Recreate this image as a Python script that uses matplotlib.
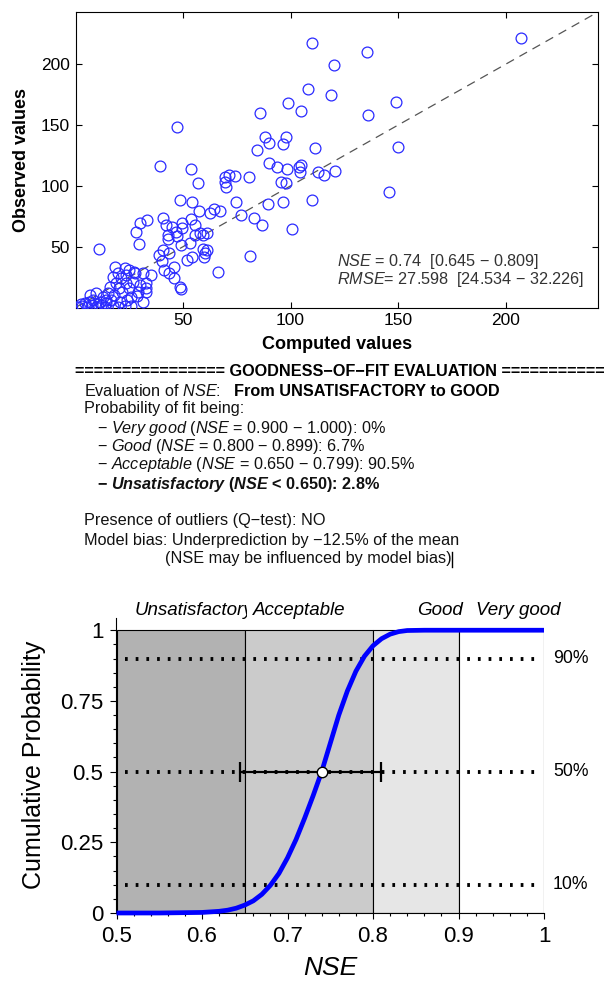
import matplotlib
matplotlib.use('Agg')
import matplotlib.pyplot as plt
from matplotlib.lines import Line2D
from matplotlib.transforms import Bbox, TransformedBbox
from matplotlib.ticker import MultipleLocator

plt.rcParams['font.family'] = ['Liberation Sans', 'DejaVu Sans']
plt.rcParams['mathtext.fontset'] = 'custom'
plt.rcParams['mathtext.rm'] = 'Liberation Sans'
plt.rcParams['mathtext.it'] = 'Liberation Sans:italic'
plt.rcParams['mathtext.bf'] = 'Liberation Sans:bold'
plt.rcParams['mathtext.bfit'] = 'Liberation Sans:bold:italic'

# ---- scatter data ----
computed = [207.4, 109.9, 135.8, 120.4, 107.9, 119.0, 148.9, 98.6, 105.0, 85.7,
            136.2, 47.1, 87.9, 98.1, 89.9, 96.6, 149.8, 111.2, 84.5, 39.1,
            53.8, 90.0, 93.5, 98.5, 103.8, 105.0, 104.6, 112.9, 115.6, 120.6,
            69.5, 71.3, 74.0, 80.8, 69.7, 70.0, 56.9, 95.4, 98.1,
            145.8, 48.5, 54.0, 74.5, 89.4, 96.3, 110.2, 57.6, 62.5, 64.5,
            67.2, 77.2, 100.8, 83.2, 86.7, 40.6, 33.3, 30.2, 28.2, 29.5,
            10.9, 42.0, 45.0, 49.3, 49.5, 46.6, 43.2, 43.0, 47.4, 53.7,
            55.4, 55.8, 57.8, 59.4, 61.0, 49.0, 53.2, 59.3, 60.0, 81.0, 66.3,
            39.0, 40.6, 43.5, 40.0, 41.3, 43.3, 46.0, 46.0, 48.7, 49.1,
            51.8, 54.0, 59.8, 61.3, 27.3, 32.7,
            18.2, 22.8, 25.1, 19.7, 17.4, 21.3, 27.5, 31.3, 35.1, 23.6,
            26.7, 29.8, 32.8, 25.1, 29.0, 32.8, 25.9, 31.3, 15.9, 15.1,
            18.9, 12.8, 9.7, 6.6, 11.3, 8.1, 14.3, 16.6, 17.4, 20.5,
            19.7, 1.2, 3.2, 5.4, 7.8, 9.7, 12.0, 4.3, 13.6, 22.8,
            25.9, 2.5, 6.5, 10.5, 14.0, 18.0, 21.5, 24.0, 28.5, 20.0, 23.5]
observed = [221.5, 217.4, 210.0, 199.6, 179.6, 174.9, 169.4, 168.0, 161.7, 160.3,
            158.4, 148.3, 140.6, 140.6, 135.1, 134.6, 132.3, 131.5, 129.6, 116.5,
            113.7, 119.2, 115.9, 114.3, 115.4, 117.5, 111.8, 111.8, 109.0, 112.6,
            107.0, 109.0, 108.2, 107.7, 103.5, 99.4, 102.7, 103.5, 102.2,
            94.8, 88.5, 86.6, 87.1, 85.2, 87.1, 88.5, 79.7, 78.1, 80.8,
            79.7, 76.1, 64.4, 73.4, 67.9, 73.8, 72.0, 69.8, 62.4, 52.3,
            48.1, 68.2, 66.5, 69.5, 65.2, 62.4, 59.7, 56.1, 58.8, 72.6,
            67.9, 59.7, 61.1, 59.7, 61.0, 51.0, 53.3, 48.3, 44.6, 42.4, 29.5,
            43.2, 47.3, 44.8, 38.5, 30.9, 28.1, 24.5, 33.1, 17.1, 15.0,
            39.1, 41.3, 41.3, 47.3, 29.5, 15.8,
            33.6, 32.3, 30.9, 28.1, 25.4, 24.0, 28.1, 28.1, 26.7, 19.9,
            21.2, 18.5, 19.9, 15.8, 13.0, 13.0, 8.9, 4.8, 17.1, 11.7,
            19.9, 8.9, 11.7, 10.3, 4.8, 6.2, 3.5, 6.2, 1.2, 4.8,
            0.7, 0.7, 1.2, 0.7, 2.1, 0.7, 1.8, 3.5, 0.7, 1.5,
            1.2, 2.5, 4.5, 3.0, 6.5, 10.5, 12.5, 6.0, 9.5, 16.0, 26.5]
scatter_ticks = [50, 100, 150, 200]
scatter_max = 243

nse_text = r'$\mathit{NSE}$ = 0.74  [0.645 − 0.809]'
rmse_text = r'$\mathit{RMSE}$= 27.598  [24.534 − 32.226]'

# ---- NSE distribution ----
nse_est = 0.74
nse_ci = [0.645, 0.809]
cdf_x = [0.50, 0.55, 0.60, 0.62, 0.63, 0.64, 0.65, 0.66, 0.67, 0.68, 0.69,
         0.70, 0.71, 0.72, 0.73, 0.74, 0.75, 0.76, 0.77, 0.78, 0.79, 0.80,
         0.81, 0.82, 0.83, 0.84, 0.86, 0.90, 1.00]
cdf_p = [0.0, 0.0, 0.002, 0.006, 0.010, 0.017, 0.028, 0.043, 0.066, 0.098, 0.14,
         0.195, 0.26, 0.335, 0.415, 0.50, 0.60, 0.70, 0.785, 0.855, 0.908, 0.945,
         0.970, 0.986, 0.995, 0.999, 1.0, 1.0, 1.0]
class_start = [0.5, 0.65, 0.8, 0.9]
class_width = [0.15, 0.15, 0.1, 0.1]
class_color = ['#b2b2b2', '#cbcbcb', '#e6e6e6', '#ffffff']
class_names = ['Unsatisfactory', 'Acceptable', 'Good', 'Very good']
class_label_x = [0.521, 0.66, 0.8515, 0.9205]
pct_levels = [0.1, 0.5, 0.9]
pct_labels = ['10%', '50%', '90%']
nse_ticks = [0.5, 0.6, 0.7, 0.8, 0.9, 1.0]
nse_ticklabels = ['0.5', '0.6', '0.7', '0.8', '0.9', '1']
prob_ticks = [0, 0.25, 0.5, 0.75, 1.0]
prob_ticklabels = ['0', '0.25', '0.5', '0.75', '1']

report_lines = [
    (84, 391, r'Evaluation of $\mathit{NSE}$:', 'normal'),
    (84, 409, 'Probability of fit being:', 'normal'),
    (97, 428, r'− $\mathit{Very\ good}$ ($\mathit{NSE}$ = 0.900 − 1.000): 0%', 'normal'),
    (97, 446, r'− $\mathit{Good}$ ($\mathit{NSE}$ = 0.800 − 0.899): 6.7%', 'normal'),
    (97, 465, r'− $\mathit{Acceptable}$ ($\mathit{NSE}$ = 0.650 − 0.799): 90.5%', 'normal'),
    (97, 484, r'− $\mathbfit{Unsatisfactory}$ ($\mathbfit{NSE}$ < 0.650): 2.8%', 'bold'),
    (84, 521, 'Presence of outliers (Q−test): NO', 'normal'),
    (84, 540, 'Model bias: Underprediction by −12.5% of the mean', 'normal'),
    (165, 558, '(NSE may be influenced by model bias)', 'normal'),
]

W, H = 611, 981
fig = plt.figure(figsize=(W / 100, H / 100), dpi=100)

# ---------------- scatter ----------------
ax = fig.add_axes([75.5 / W, 1 - 307.5 / H, 522.5 / W, 295.5 / H])
ax.plot(computed, observed, 'o', mfc='none', mec='#2a2aff', ms=7.8, mew=0.9, zorder=3)
ax.axline((0, 0), slope=1, color='#555555', lw=0.9, ls=(0, (7, 5)), zorder=2)
ax.set_xlim(0, scatter_max)
ax.set_ylim(0, scatter_max)
ax.set_xticks(scatter_ticks)
ax.set_yticks(scatter_ticks)
ax.tick_params(direction='in', top=True, right=True, length=4, width=0.8,
               labelsize=12.5, pad=4)
for s in ax.spines.values():
    s.set_linewidth(0.8)
ax.set_xlabel('Computed values', fontsize=13, fontweight='bold', va='center')
ax.set_ylabel('Observed values', fontsize=13, fontweight='bold', va='center')
ax.xaxis.set_label_coords(0.5, (307.5 - 344) / 295.5)
ax.yaxis.set_label_coords((22 - 75.5) / 522.5, 0.5)
ax.text((337 - 75.5) / 522.5, (307.5 - 261) / 295.5, nse_text, transform=ax.transAxes,
        fontsize=11.7, color='#333333', va='center')
ax.text((337 - 75.5) / 522.5, (307.5 - 279) / 295.5, rmse_text, transform=ax.transAxes,
        fontsize=11.7, color='#333333', va='center')

# ---------------- text report ----------------
fig.text(75 / W, 1 - 372 / H,
         '================ GOODNESS−OF−FIT EVALUATION ===========',
         fontsize=11.7, fontweight='bold', va='center')
fig.text(234 / W, 1 - 391 / H, 'From UNSATISFACTORY to GOOD',
         fontsize=11.7, fontweight='bold', va='center')
for x, y, s, wt in report_lines:
    fig.text(x / W, 1 - y / H, s, fontsize=11.7, fontweight=wt, va='center', color='#111111')
fig.add_artist(Line2D([452 / W, 452 / W], [1 - 552 / H, 1 - 567 / H], color='k', lw=1))

# ---------------- NSE cumulative probability ----------------
ax2 = fig.add_axes([116.5 / W, 1 - 913 / H, 427.5 / W, 295.5 / H])
ax2.bar(class_start, 1, width=class_width, align='edge', color=class_color,
        edgecolor='black', linewidth=0.8, zorder=1)
for lev in pct_levels:
    ax2.plot([0.51, 0.99], [lev, lev], color='black', lw=2.8,
             ls=(0, (0.7, 2.05)), dash_capstyle='butt', zorder=2)
ax2.plot(cdf_x, cdf_p, color='#0000ff', lw=3.4, zorder=3, clip_on=False,
         solid_capstyle='butt', solid_joinstyle='round')
ax2.errorbar(nse_est, 0.5, xerr=[[nse_est - nse_ci[0]], [nse_ci[1] - nse_est]],
             fmt='none', ecolor='black', elinewidth=1.6, capsize=7.5, capthick=1.6,
             zorder=4)
ax2.plot(nse_est, 0.5, 'o', mfc='white', mec='black', ms=7.5, mew=1, zorder=5)

for lev, lab in zip(pct_levels, pct_labels):
    ax2.text(1.0105, lev, lab, fontsize=12.7, va='center', ha='left', clip_on=False)

for i, (xl, name) in enumerate(zip(class_label_x, class_names)):
    t = ax2.text(xl, 1.071, name, fontsize=13.5, style='italic', va='center', ha='left')
    if i == 0:
        # the first label is cut off where the next class begins
        t.set_clip_path(None)
        t.set_clip_box(TransformedBbox(Bbox([[0.5, 1.0], [0.6525, 1.2]]), ax2.transData))
        t.set_clip_on(True)
    else:
        t.set_clip_on(False)

ax2.set_xlim(0.5, 1.0)
ax2.set_ylim(0, 1.045)
ax2.spines['top'].set_visible(False)
ax2.spines['right'].set_visible(False)
ax2.spines['left'].set_linewidth(0.8)
ax2.spines['bottom'].set_linewidth(0.8)
ax2.set_xticks(nse_ticks)
ax2.set_xticklabels(nse_ticklabels)
ax2.set_yticks(prob_ticks)
ax2.set_yticklabels(prob_ticklabels)
ax2.xaxis.set_minor_locator(MultipleLocator(0.02))
ax2.yaxis.set_minor_locator(MultipleLocator(0.05))
ax2.tick_params(which='major', direction='out', length=4.5, width=0.8,
                labelsize=16, pad=5)
ax2.tick_params(which='minor', direction='out', length=2.5, width=0.8)
ax2.set_xlabel('NSE', fontsize=19, style='italic', va='center')
ax2.set_ylabel('Cumulative Probability', fontsize=18, va='center')
ax2.xaxis.set_label_coords(0.5, (913 - 968) / 295.5)
ax2.yaxis.set_label_coords((34 - 116.5) / 427.5, (913 - 765) / 295.5)

fig.savefig('out.png', dpi=100)
